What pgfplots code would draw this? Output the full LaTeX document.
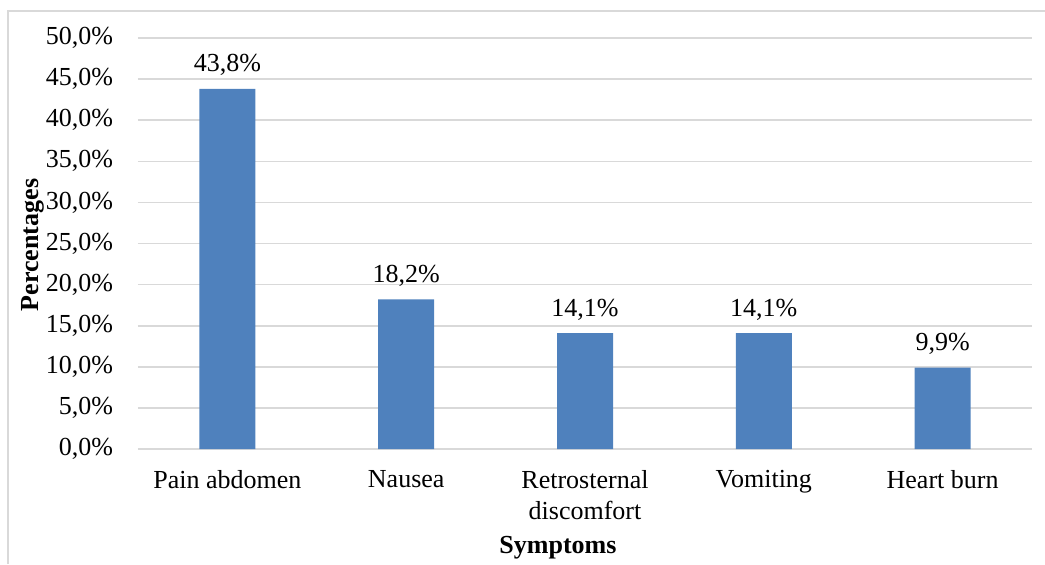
\documentclass[border=0pt]{standalone}
\usepackage{fontspec}
\setmainfont{Liberation Serif}
\usepackage{pgfplots}
\pgfplotsset{compat=1.18}
\definecolor{barblue}{HTML}{4F81BD}
\definecolor{gridgray}{HTML}{D9D9D9}
\begin{document}
\fontsize{13}{15.5}\selectfont
\begin{tikzpicture}[x=1pt,y=1pt]
\useasboundingbox (0,0) rectangle (522.5,-282);
\draw[gridgray,line width=0.8pt] (4,-282) -- (4,-5.5) -- (522.5,-5.5);
\begin{axis}[
  at={(69pt,-224.5pt)}, anchor=south west,
  scale only axis, width=447pt, height=205.5pt,
  ymin=0, ymax=50, ytick={0,5,...,50},
  xmin=-0.5, xmax=4.5,
  xtick={0,1,2,3,4},
  xticklabels={Pain abdomen,Nausea,Retrosternal\\discomfort,Vomiting,Heart burn},
  xticklabel style={align=center, font=\fontsize{13}{15.5}\selectfont, yshift=-6pt},
  yticklabel style={font=\fontsize{13}{15.5}\selectfont, xshift=-8pt},
  /pgf/number format/assume math mode=true,
  yticklabel={\pgfmathprintnumber[fixed,fixed zerofill,precision=1,use comma]{\tick}\%},
  ymajorgrids, grid style={gridgray, line width=0.8pt},
  axis x line=bottom, axis y line=left,
  x axis line style={gridgray, line width=0.8pt, -},
  y axis line style={draw=none},
  major tick length=0pt,
  ybar, bar width=28pt,
  nodes near coords={\pgfmathprintnumber[fixed,fixed zerofill,precision=1,use comma]{\pgfplotspointmeta}\%},
  nodes near coords style={font=\fontsize{13}{15.5}\selectfont, black, yshift=2pt},
  clip=false,
]
\addplot[fill=barblue, draw=none] coordinates {(0,43.8) (1,18.2) (2,14.1) (3,14.1) (4,9.9)};
\end{axis}
\node[rotate=90, font=\bfseries\fontsize{13}{15.5}\selectfont] at (16.5,-122.5) {Percentages};
\node[font=\bfseries\fontsize{13}{15.5}\selectfont] at (279,-274) {Symptoms};
\end{tikzpicture}
\end{document}
